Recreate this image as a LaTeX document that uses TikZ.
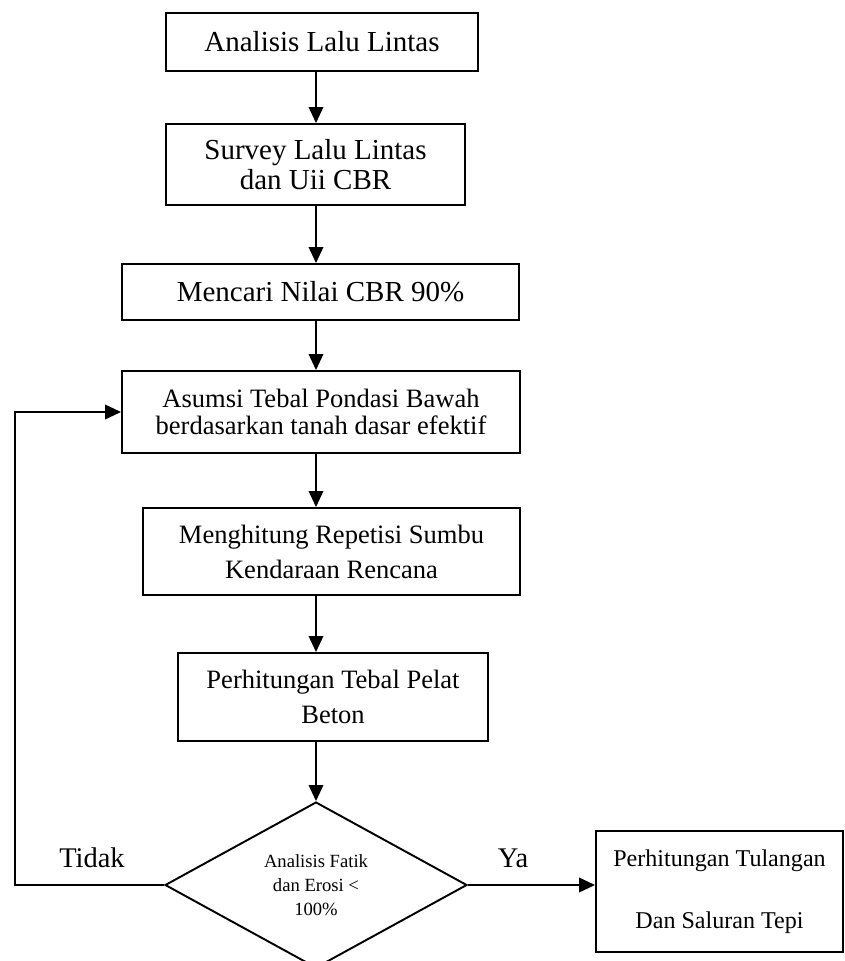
\documentclass[tikz,border=0pt]{standalone}
\usepackage{fontspec}
\setmainfont{Liberation Serif}
\usetikzlibrary{shapes.geometric,arrows.meta}

\begin{document}
\begin{tikzpicture}[x=0.02cm, y=-0.02cm, line width=1.1pt,
  stepbox/.style={draw, align=center, inner sep=2pt, font=\fontsize{16.5}{17.2}\selectfont},
  smallbox/.style={stepbox, font=\fontsize{15.1}{19.9}\selectfont},
  decide/.style={draw, shape=diamond, aspect=1.82, inner sep=0pt, align=center, font=\fontsize{10.6}{13.6}\selectfont},
  arr/.style={-{Triangle[length=0.32cm, width=0.29cm]}},
  lbl/.style={font=\fontsize{16.2}{18}\selectfont}]
\clip (0,0) rectangle (845,961);
% ---- main column
\node[stepbox, minimum width=6.24cm, minimum height=1.16cm] (b1) at (322,42) {Analisis Lalu Lintas};
\node[stepbox, minimum width=5.98cm, minimum height=1.62cm] (b2) at (315.5,164.5) {Survey Lalu Lintas\\ dan Uii CBR};
\node[stepbox, minimum width=7.94cm, minimum height=1.12cm] (b3) at (320.5,292) {Mencari Nilai CBR 90\%};
\node[smallbox, font=\fontsize{15.1}{15.4}\selectfont, minimum width=7.96cm, minimum height=1.64cm] (b4) at (321,412) {Asumsi Tebal Pondasi Bawah\\ berdasarkan tanah dasar efektif};
\node[smallbox, minimum width=7.54cm, minimum height=1.74cm] (b5) at (331.5,551.5) {Menghitung Repetisi Sumbu\\ Kendaraan Rencana};
\node[smallbox, minimum width=6.2cm, minimum height=1.76cm] (b6) at (333,697) {Perhitungan Tebal Pelat\\ Beton};
\node[decide, minimum width=6.04cm, minimum height=3.32cm] (dia) at (316,885) {Analisis Fatik\\ dan Erosi <\\ 100\%};
\node[stepbox, font=\fontsize{13.7}{35.3}\selectfont, minimum width=4.94cm, minimum height=2.42cm] (hasil) at (719.5,891.5) {Perhitungan Tulangan\\ Dan Saluran Tepi};
% ---- branch labels
\node[lbl] (tidak) at (92,858) {Tidak};
\node[lbl] (ya) at (513,858) {Ya};
% ---- connectors
\draw[arr] (b1.south -| dia.north) -- (b2.north -| dia.north);
\draw[arr] (b2.south -| dia.north) -- (b3.north -| dia.north);
\draw[arr] (b3.south -| dia.north) -- (b4.north -| dia.north);
\draw[arr] (b4.south -| dia.north) -- (b5.north -| dia.north);
\draw[arr] (b5.south -| dia.north) -- (b6.north -| dia.north);
\draw[arr] (b6.south -| dia.north) -- (dia.north);
\draw[arr] (dia.east) -- (dia.east -| hasil.west);
\draw[arr] (dia.west) -- ++(-149,0) |- (b4.west);
\end{tikzpicture}
\end{document}
